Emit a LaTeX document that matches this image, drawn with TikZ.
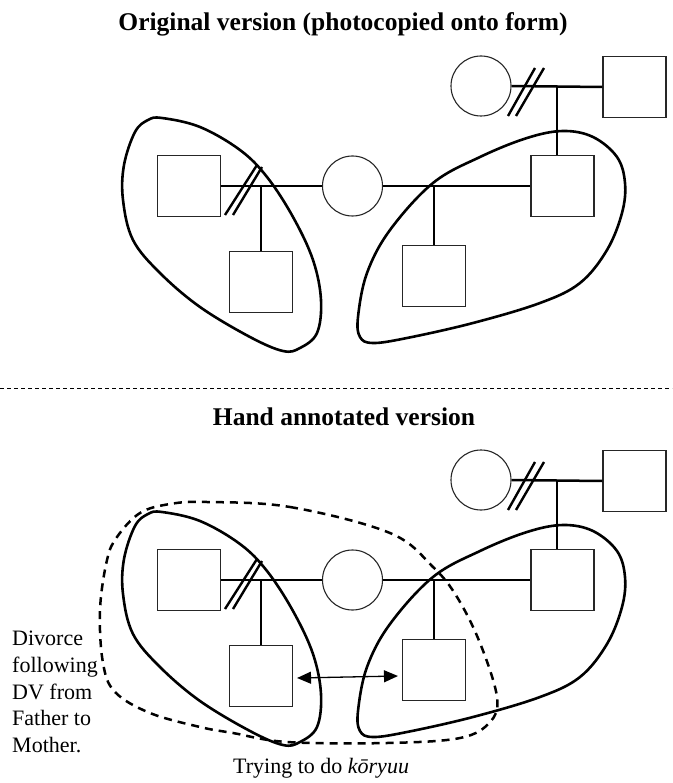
\documentclass[tikz,border=0pt]{standalone}
\usepackage{fontspec}
\setmainfont{Liberation Serif}
\usetikzlibrary{arrows.meta,calc}
\tikzset{
  male/.style={draw=black!85,line width=1.1pt,inner sep=0pt,minimum width=63pt,minimum height=61pt},
  female/.style={draw=black!85,line width=1.1pt,inner sep=0pt,circle,minimum size=60pt},
  kinline/.style={line width=2.5pt},
  divmark/.style={line width=2.4pt},
  grouping/.style={line width=2.6pt},
  dashgroup/.style={line width=2.5pt,dash pattern=on 8pt off 6pt},
  separator/.style={line width=1pt,dash pattern=on 4pt off 3pt},
  titletext/.style={font=\fontsize{25.5}{30}\selectfont\bfseries,inner sep=0pt,anchor=base},
  bodytext/.style={font=\fontsize{22}{26.7}\selectfont,inner sep=0pt},
  twoway/.style={line width=1.3pt,{Triangle[length=14pt,width=12pt]}-{Triangle[length=14pt,width=12pt]}}
}
\newcommand\pedigree{%
  \node[male] (f1) at (189,186) {};
  \node[female] (m) at (352.5,186) {};
  \node[male] (f2) at (562.5,186) {};
  \node[female] (gm) at (481,86) {};
  \node[male] (gf) at (634.5,87) {};
  \node[male] (c1) at (261,282) {};
  \node[male] (c2) at (434,276) {};
  \coordinate (j1) at (261,186);
  \coordinate (j2) at (434,186);
  \coordinate (j3) at (557,87);
  \draw[kinline] (f1.east) -- (m.west);
  \draw[kinline] (m.east) -- (f2.west);
  \draw[kinline] (gm.east) -- (gf.west);
  \draw[kinline] (j1) -- (c1.north);
  \draw[kinline] (j2) -- (c2.north);
  \draw[kinline] (j3) -- (j3 |- f2.north);
  \draw[divmark] (225,215) -- (257,165) (233,215) -- (262,167);
  \draw[divmark] (508,116) -- (535,68) (516,116) -- (544,68);
  \draw[grouping] plot[smooth cycle,tension=0.6] coordinates {
    (162,118) (200,127) (240,150) (267,177) (293,217) (313,260) (321,300)
    (317,333) (300,348) (283,351) (250,337) (200,307) (160,273) (133,240)
    (123,200) (124,165) (135,132) (148,120)};
  \draw[grouping] plot[smooth cycle,tension=0.6] coordinates {
    (563,131) (593,137) (617,157) (625,183) (622,213) (607,250) (580,283)
    (540,303) (473,323) (407,338) (373,343) (360,337) (358,317) (367,273)
    (390,230) (433,183) (480,157) (527,138)};
}
\begin{document}
\begin{tikzpicture}[x=1pt,y=-1pt]
  \useasboundingbox (0,0) rectangle (672,783);
  \node[titletext] (t1) at (343,31) {Original version (photocopied onto form)};
  \begin{scope}[name prefix=a-]
    \pedigree
  \end{scope}
  \coordinate (sepL) at (0,388);
  \coordinate (sepR) at (672,388);
  \draw[separator] (sepL) -- (sepR);
  \node[titletext] (t2) at (344,425) {Hand annotated version};
  \begin{scope}[name prefix=b-,shift={(0,394)}]
    \pedigree
  \end{scope}
  \draw[dashgroup] plot[smooth cycle,tension=0.6] coordinates {
    (207,502) (290,507) (390,533) (433,567) (457,597) (480,643) (497,697)
    (490,722) (460,738) (387,743) (287,742) (233,733) (200,727) (150,713)
    (115,692) (103,663) (100,610) (107,560) (117,537) (140,513) (170,504)};
  \draw[twoway] ([xshift=4pt,yshift=-2pt]b-c1.east) -- ([xshift=-4pt,yshift=-6pt]b-c2.west);
  \node[bodytext,align=left,anchor=north west] (note) at (12,631)
    {Divorce\\following\\DV from\\Father to\\Mother.};
  \node[bodytext,anchor=base west] (koryuu) at (233,773) {Trying to do \textit{kōryuu}};
\end{tikzpicture}
\end{document}
